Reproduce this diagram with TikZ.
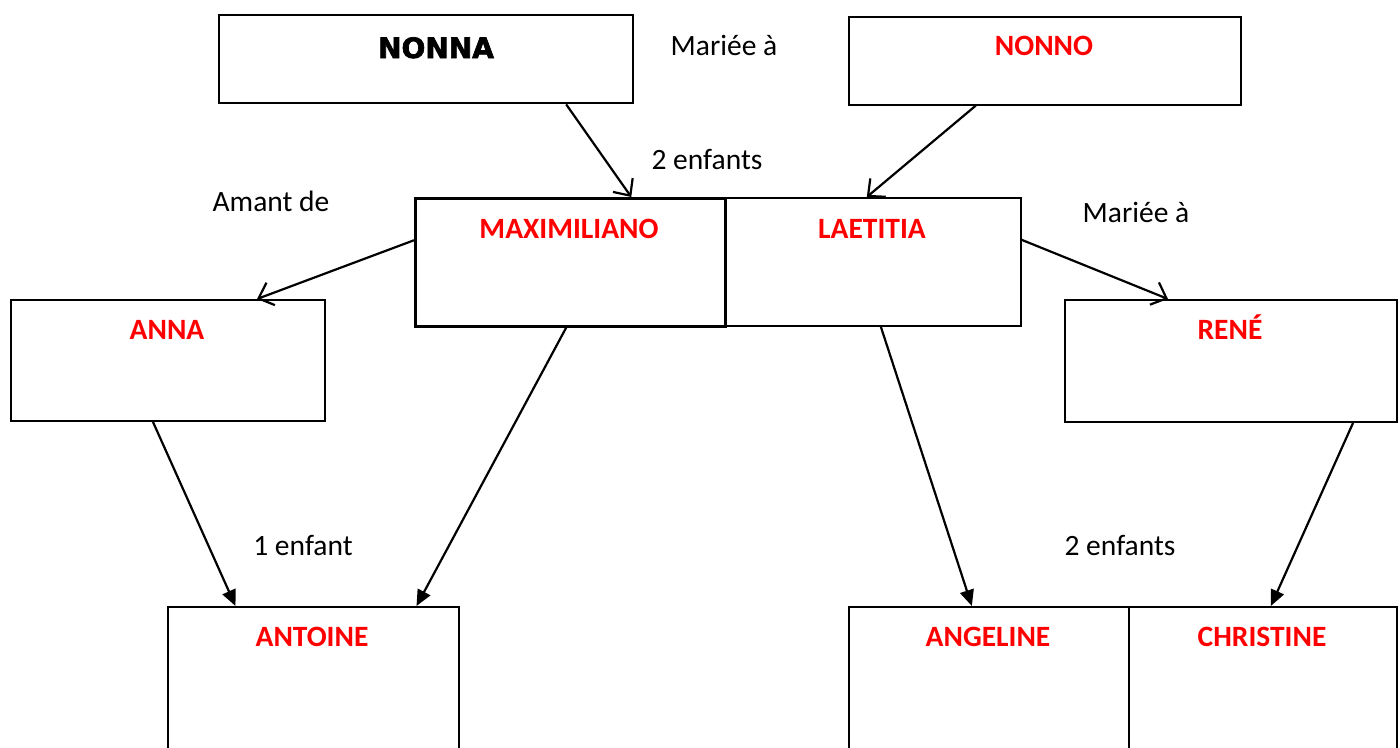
\documentclass[tikz,border=0pt]{standalone}
\usepackage{fontspec}
\setmainfont{Carlito}
\newfontfamily\blackfont[FakeBold=2.5]{DejaVu Sans}
\usetikzlibrary{arrows.meta}
\definecolor{namered}{RGB}{255,0,0}
\tikzset{
  box/.style={draw=black, line width=2pt, anchor=north west, inner sep=0pt},
  nm/.style={anchor=base, text=namered, font=\fontsize{29.5}{31}\selectfont\bfseries, inner sep=0pt},
  rel/.style={anchor=base, text=black, font=\fontsize{29.5}{31}\selectfont, inner sep=0pt},
  openarr/.style={draw=black, line width=2.2pt, -{Straight Barb[length=13pt,width=24pt,line width=2.2pt]}},
  fillarr/.style={draw=black, line width=2.2pt, -{Triangle[length=16pt,width=14pt]}}
}
\begin{document}
\begin{tikzpicture}[x=1pt,y=-1pt]
\clip (0,0) rectangle (1400,747);
\fill[white] (0,0) rectangle (1400,747);

% boxes
\node[box, minimum width=414pt, minimum height=88pt, line width=2.4pt] (nonna) at (218,14) {};
\node[box, minimum width=392pt, minimum height=88pt, line width=1.6pt] (nonno) at (848,16) {};
\node[box, minimum width=310pt, minimum height=128pt, line width=2.5pt] (max) at (414,197) {};
\node[box, minimum width=296pt, minimum height=128pt, line width=1.6pt] (lae) at (724,197) {};
\node[box, minimum width=314pt, minimum height=121pt] (anna) at (10,299) {};
\node[box, minimum width=332pt, minimum height=122pt] (rene) at (1064,299) {};
\node[box, minimum width=291pt, minimum height=160pt] (antoine) at (167,606) {};
\node[box, minimum width=280pt, minimum height=160pt, line width=1.7pt] (ange) at (848,606) {};
\node[box, minimum width=268pt, minimum height=160pt, line width=1.7pt] (chris) at (1128,606) {};

% names
\node[anchor=base, inner sep=0pt, font=\blackfont\fontsize{28}{30}\selectfont\bfseries] (tnonna) at (436,58) {NONNA};
\node[nm] (tnonno) at (1044,55) {NONNO};
\node[nm] (tmax) at (569,238) {MAXIMILIANO};
\node[nm] (tlae) at (872,238) {LAETITIA};
\node[nm] (tanna) at (167,339) {ANNA};
\node[nm] (trene) at (1230,339) {RENÉ};
\node[nm] (tantoine) at (312,646) {ANTOINE};
\node[nm] (tange) at (988,646) {ANGELINE};
\node[nm] (tchris) at (1262,646) {CHRISTINE};

% relation labels
\node[rel] (l1) at (724,55) {Mariée à};
\node[rel] (l2) at (707,169) {2 enfants};
\node[rel] (l3) at (271,211) {Amant de};
\node[rel] (l4) at (1136,222) {Mariée à};
\node[rel] (l5) at (303,555) {1 enfant};
\node[rel] (l6) at (1120,555) {2 enfants};

% arrows
\draw[openarr] ([xshift=140pt]nonna.south) -- ([xshift=61pt]max.north);
\draw[openarr] ([xshift=-69pt]nonno.south) -- ([xshift=-6pt]lae.north);
\draw[openarr] ([yshift=22pt]max.west) -- ([xshift=89pt]anna.north);
\draw[openarr] ([yshift=22pt]lae.east) -- ([xshift=-63pt]rene.north);
\draw[fillarr] ([xshift=-15pt]anna.south) -- ([xshift=-78pt]antoine.north);
\draw[fillarr] ([xshift=-4pt]max.south) -- ([xshift=103pt]antoine.north);
\draw[fillarr] ([xshift=8pt]lae.south) -- ([xshift=-17pt]ange.north);
\draw[fillarr] ([xshift=122pt]rene.south) -- ([xshift=8pt]chris.north);
\end{tikzpicture}
\end{document}
